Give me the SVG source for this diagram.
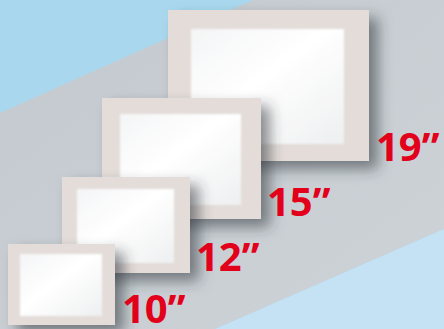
<svg xmlns="http://www.w3.org/2000/svg" width="444" height="329" viewBox="0 0 444 329">
<defs>
<linearGradient id="band" x1="0" y1="0" x2="1" y2="1">
<stop offset="0" stop-color="#c3c9ce"/>
<stop offset="1" stop-color="#cdd3d7"/>
</linearGradient>
<linearGradient id="screen" x1="0" y1="0" x2="1" y2="1">
<stop offset="0" stop-color="#f4f5f6"/>
<stop offset="0.45" stop-color="#ffffff"/>
<stop offset="1" stop-color="#eeeff0"/>
</linearGradient>
<filter id="sh" x="-20%" y="-20%" width="150%" height="150%">
<feDropShadow dx="9" dy="8" stdDeviation="7" flood-color="#30353b" flood-opacity="0.55"/>
</filter>
<filter id="soft" x="-5%" y="-5%" width="110%" height="110%">
<feGaussianBlur stdDeviation="0.8"/>
</filter>
</defs>
<style>
.frame{fill:#e3dcd9;filter:url(#sh)}
.scr{fill:url(#screen);filter:url(#soft)}
.lbl{font-family:"Open Sans","Liberation Sans",sans-serif;font-weight:bold;font-size:40px;fill:#e2001a}
</style>
<rect x="0" y="0" width="444" height="329" fill="#a9d8ee"/>
<polygon points="0,113 253,0 444,0 444,229 215,329 0,329" fill="url(#band)"/>
<polygon points="444,229 444,329 215,329" fill="#c4e2f3"/>
<g id="m19">
<rect class="frame" x="168" y="10" width="201" height="151"/>
<rect class="scr" x="191" y="29" width="153" height="115"/>
<text class="lbl" x="376" y="161">19”</text>
</g>
<g id="m15">
<rect class="frame" x="102" y="98" width="159" height="121"/>
<rect class="scr" x="120" y="114" width="121" height="91"/>
<text class="lbl" x="267" y="216">15”</text>
</g>
<g id="m12">
<rect class="frame" x="62" y="177" width="128" height="96"/>
<rect class="scr" x="77" y="189" width="97" height="74"/>
<text class="lbl" x="196" y="271">12”</text>
</g>
<g id="m10">
<rect class="frame" x="8" y="244" width="107" height="81"/>
<rect class="scr" x="20" y="254" width="82" height="62"/>
<text class="lbl" x="122" y="323">10”</text>
</g>
<g id="connectors"/>
</svg>
